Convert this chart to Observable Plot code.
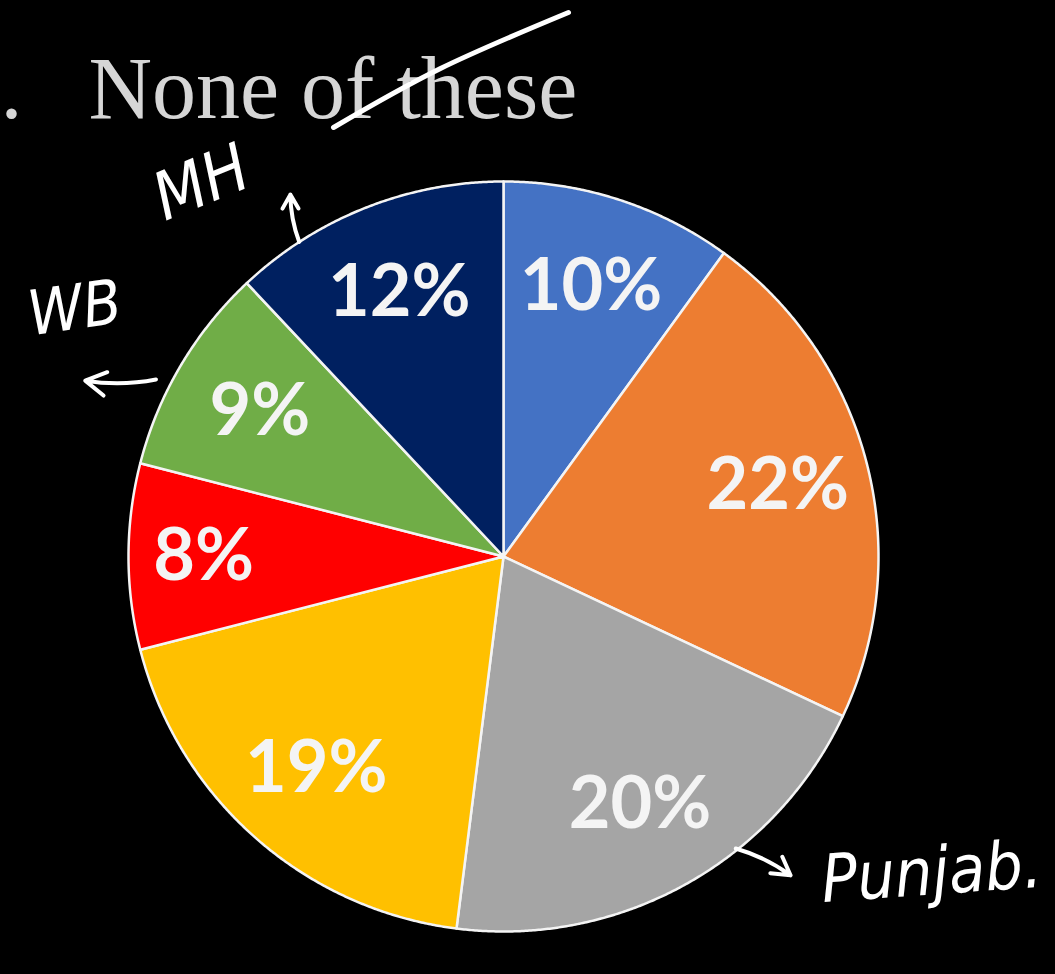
<!DOCTYPE html>
<html>
<head>
<meta charset="utf-8">
<script src="https://cdn.jsdelivr.net/npm/d3@7"></script>
<script src="https://cdn.jsdelivr.net/npm/@observablehq/plot@0.6"></script>
<style>
  html, body { margin: 0; padding: 0; background: #000; }
  #chart { width: 1055px; height: 974px; overflow: hidden; }
</style>
</head>
<body>
<div id="chart"></div>
<script>
// ---- data ----
const labels = ["10%", "22%", "20%", "19%", "8%", "9%", "12%"];
const values = [10, 22, 20, 19, 8, 9, 12];
const colors = ["#4472C4", "#ED7D31", "#A5A5A5", "#FFC000", "#FF0000", "#70AD47", "#002060"];
const title = "None of these";
// handwritten notes, placed in polar terms (degrees clockwise from 12 o'clock, radius in pie radii)
const noteTexts = ["MH", "WB", "Punjab."];
const noteAngles = [321, 300, 126.5];
const noteRadii = [1.28, 1.32, 1.42];
const noteRotate = [-22, -8, -4];
const noteSizes = [66, 62, 66];
const arrowFrom = [[327, 1.0], [297, 1.04], [141.5, 0.995]];
const arrowTo = [[329.5, 1.12], [292.8, 1.21], [138, 1.144]];

// ---- geometry ----
const W = 1055, H = 974, R = 375, CX = 503, CY = 556;
const toXY = (deg, r) => {
  const t = deg * Math.PI / 180;
  return {x: r * Math.sin(t), y: r * Math.cos(t)};
};
const arcs = d3.pie().sort(null).value(d => d)(values);
const pts = [];
arcs.forEach((a, i) => {
  pts.push({k: i, x: 0, y: 0, c: colors[i]});
  const n = Math.ceil((a.endAngle - a.startAngle) / 0.005);
  for (let j = 0; j <= n; j++) {
    const t = a.startAngle + (a.endAngle - a.startAngle) * j / n;
    pts.push({k: i, x: Math.sin(t), y: Math.cos(t), c: colors[i]});
  }
  pts.push({k: i, x: 0, y: 0, c: colors[i]});
});
const labelPts = arcs.map((a, i) => {
  const m = (a.startAngle + a.endAngle) / 2;
  const r = values[i] < 9 ? 0.8 : 0.755;
  return {x: r * Math.sin(m), y: r * Math.cos(m), text: labels[i]};
});
const notes = noteTexts.map((t, i) => ({...toXY(noteAngles[i], noteRadii[i]), text: t, rot: noteRotate[i], size: noteSizes[i]}));
const arrows = arrowFrom.map((f, i) => {
  const a = toXY(f[0], f[1]), b = toXY(arrowTo[i][0], arrowTo[i][1]);
  return {x1: a.x, y1: a.y, x2: b.x, y2: b.y};
});
// strike stroke across the title (in pie-radius units)
const strike = [[333, 127], [440, 68], [568, 12]].map(([px, py]) => ({x: (px - CX) / R, y: (CY - py) / R}));

const chart = Plot.plot({
  width: W, height: H,
  margin: 0,
  style: {background: "#000"},
  x: {domain: [-CX / R, (W - CX) / R], range: [0, W], axis: null},
  y: {domain: [-(H - CY) / R, CY / R], range: [H, 0], axis: null},
  color: {type: "identity"},
  marks: [
    Plot.line(pts, {x: "x", y: "y", z: "k", fill: "c", stroke: "#f4f4f4", strokeWidth: 2.5, strokeLinejoin: "round"}),
    Plot.text(labelPts, {x: "x", y: "y", text: "text", fill: "#f4f4f4", fontSize: 72, fontWeight: "bold", fontFamily: "Lato, 'Open Sans', sans-serif"}),
    Plot.text([title], {frameAnchor: "top-left", dx: 88, dy: 117, textAnchor: "start", lineAnchor: "bottom", fontSize: 88, fontFamily: "'Liberation Serif', 'Times New Roman', serif", fill: "#d6d6d6"}),
    Plot.text(["."], {frameAnchor: "top-left", dx: 0, dy: 117, textAnchor: "start", lineAnchor: "bottom", fontSize: 88, fontFamily: "'Liberation Serif', serif", fill: "#d6d6d6"}),
    Plot.line(strike, {x: "x", y: "y", curve: "natural", stroke: "#fff", strokeWidth: 5, strokeLinecap: "round"}),
    Plot.text(notes, {x: "x", y: "y", text: "text", rotate: "rot", fontSize: (d) => d.size, fill: "#fff", fontFamily: "'DejaVu Sans Condensed', 'DejaVu Sans', sans-serif", fontStyle: "italic"}),
    Plot.arrow(arrows, {x1: "x1", y1: "y1", x2: "x2", y2: "y2", stroke: "#fff", strokeWidth: 4, headLength: 16, bend: 10})
  ]
});
document.getElementById("chart").appendChild(chart);
</script>
</body>
</html>
